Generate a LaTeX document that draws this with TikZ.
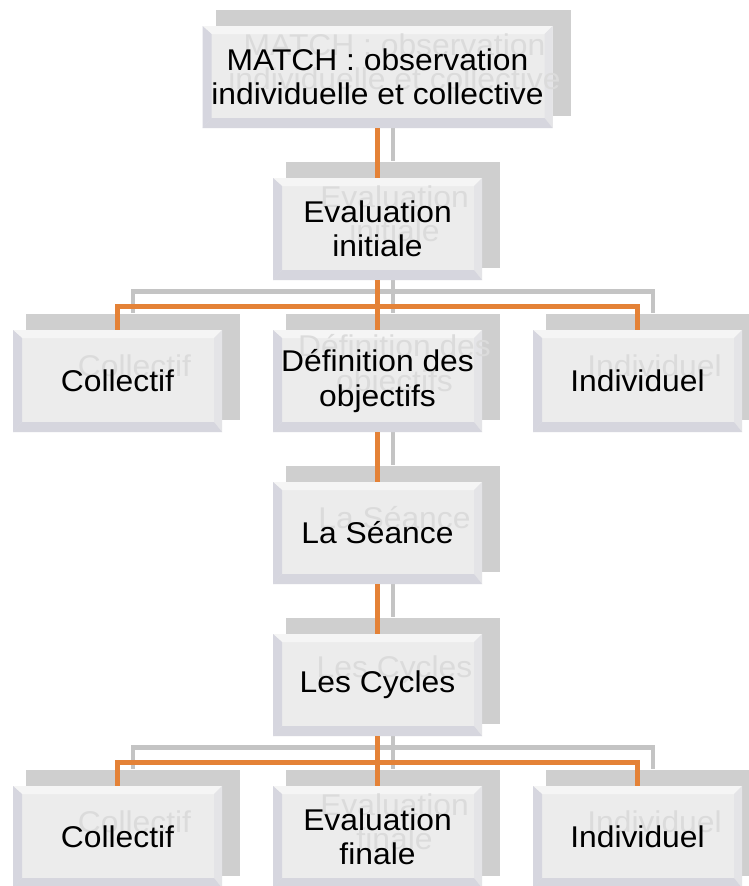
\documentclass[tikz,border=0pt]{standalone}
\usepackage{fontspec}
\setmainfont{Liberation Sans}[FakeStretch=1.06]
\definecolor{shadowgray}{HTML}{CFCFCF}
\definecolor{ghostgray}{HTML}{DBDBDB}
\definecolor{frontfill}{HTML}{ECECEC}
\definecolor{bevtop}{HTML}{F5F5F5}
\definecolor{bevleft}{HTML}{D6D6DF}
\definecolor{bevbottom}{HTML}{D6D6DE}
\definecolor{bevright}{HTML}{E4E4E7}
\definecolor{conorange}{RGB}{228,130,55}
\definecolor{congray}{HTML}{C4C4C4}
\newcommand\bxfont{\fontsize{30}{34.5}\selectfont}
\tikzset{
  shadowbox/.style={rectangle, fill=shadowgray, minimum height=106pt, inner sep=0pt},
  frontbox/.style={rectangle, fill=frontfill, minimum height=102pt, inner sep=0pt,
    path picture={
      \fill[bevtop] (path picture bounding box.north west) -- (path picture bounding box.north east)
        -- ([shift={(-8,8)}]path picture bounding box.north east) -- ([shift={(9,8)}]path picture bounding box.north west) -- cycle;
      \fill[bevright] (path picture bounding box.north east) -- (path picture bounding box.south east)
        -- ([shift={(-8,-10)}]path picture bounding box.south east) -- ([shift={(-8,8)}]path picture bounding box.north east) -- cycle;
      \fill[bevbottom] (path picture bounding box.south west) -- (path picture bounding box.south east)
        -- ([shift={(-8,-10)}]path picture bounding box.south east) -- ([shift={(9,-10)}]path picture bounding box.south west) -- cycle;
      \fill[bevleft] (path picture bounding box.north west) -- (path picture bounding box.south west)
        -- ([shift={(9,-10)}]path picture bounding box.south west) -- ([shift={(9,8)}]path picture bounding box.north west) -- cycle;
    }},
  ghosttext/.style={text=ghostgray, align=center, font=\bxfont, inner sep=0pt},
  boxtext/.style={text=black, align=center, font=\bxfont, inner sep=0pt},
  graycon/.style={draw=congray, line width=4.5pt},
  orangecon/.style={draw=conorange, line width=4.5pt},
}
% name, x, y, width
\newcommand\smartshadow[4]{\node[shadowbox, minimum width=#4pt+5pt] (s#1) at (#2+15.5,#3-14.5) {};}
\newcommand\smartfront[4]{\node[frontbox, minimum width=#4pt] (#1) at (#2,#3) {};}
% x, y, text
\newcommand\smartghost[3]{\node[ghosttext] at (#1+17,#2-15) {#3};}
\newcommand\smarttext[2]{\node[boxtext] at (#1) {#2};}

\begin{document}
\begin{tikzpicture}[x=1pt,y=-1pt]
\useasboundingbox[fill=white] (0,0) rectangle (748,886);

% shadow boxes
\smartshadow{match}{377.5}{77}{350}
\smartshadow{eval}{377.5}{229}{209}
\smartshadow{colA}{117.5}{381}{209}
\smartshadow{def}{377.5}{381}{209}
\smartshadow{indA}{637.5}{381}{209}
\smartshadow{seance}{377.5}{533}{209}
\smartshadow{cycles}{377.5}{685}{209}
\smartshadow{colB}{117.5}{837}{209}
\smartshadow{evf}{377.5}{837}{209}
\smartshadow{indB}{637.5}{837}{209}

% gray (shadow) connectors
\draw[graycon] (smatch.south) -- (seval.north);
\draw[graycon] (seval.south) -- (sdef.north);
\draw[graycon] (seval.south) -- ++(0,24) -| (scolA.north);
\draw[graycon] (seval.south) -- ++(0,24) -| (sindA.north);
\draw[graycon] (sdef.south) -- (sseance.north);
\draw[graycon] (sseance.south) -- (scycles.north);
\draw[graycon] (scycles.south) -- (sevf.north);
\draw[graycon] (scycles.south) -- ++(0,24) -| (scolB.north);
\draw[graycon] (scycles.south) -- ++(0,24) -| (sindB.north);

% front boxes
\smartfront{match}{377.5}{77}{350}
\smartfront{eval}{377.5}{229}{209}
\smartfront{colA}{117.5}{381}{209}
\smartfront{def}{377.5}{381}{209}
\smartfront{indA}{637.5}{381}{209}
\smartfront{seance}{377.5}{533}{209}
\smartfront{cycles}{377.5}{685}{209}
\smartfront{colB}{117.5}{837}{209}
\smartfront{evf}{377.5}{837}{209}
\smartfront{indB}{637.5}{837}{209}

% orange connectors
\draw[orangecon] (match.south) -- (eval.north);
\draw[orangecon] (eval.south) -- (def.north);
\draw[orangecon] (eval.south) -- ++(0,26.5) -| (colA.north);
\draw[orangecon] (eval.south) -- ++(0,26.5) -| (indA.north);
\draw[orangecon] (def.south) -- (seance.north);
\draw[orangecon] (seance.south) -- (cycles.north);
\draw[orangecon] (cycles.south) -- (evf.north);
\draw[orangecon] (cycles.south) -- ++(0,26.5) -| (colB.north);
\draw[orangecon] (cycles.south) -- ++(0,26.5) -| (indB.north);

% ghost texts
\smartghost{377.5}{77}{MATCH : observation\\individuelle et collective}
\smartghost{377.5}{229}{Evaluation\\initiale}
\smartghost{117.5}{381}{Collectif}
\smartghost{377.5}{381}{Définition des\\objectifs}
\smartghost{637.5}{381}{Individuel}
\smartghost{377.5}{533}{La Séance}
\smartghost{377.5}{685}{Les Cycles}
\smartghost{117.5}{837}{Collectif}
\smartghost{377.5}{837}{Evaluation\\finale}
\smartghost{637.5}{837}{Individuel}

% texts
\smarttext{match}{MATCH : observation\\individuelle et collective}
\smarttext{eval}{Evaluation\\initiale}
\smarttext{colA}{Collectif}
\smarttext{def}{Définition des\\objectifs}
\smarttext{indA}{Individuel}
\smarttext{seance}{La Séance}
\smarttext{cycles}{Les Cycles}
\smarttext{colB}{Collectif}
\smarttext{evf}{Evaluation\\finale}
\smarttext{indB}{Individuel}
\end{tikzpicture}
\end{document}
